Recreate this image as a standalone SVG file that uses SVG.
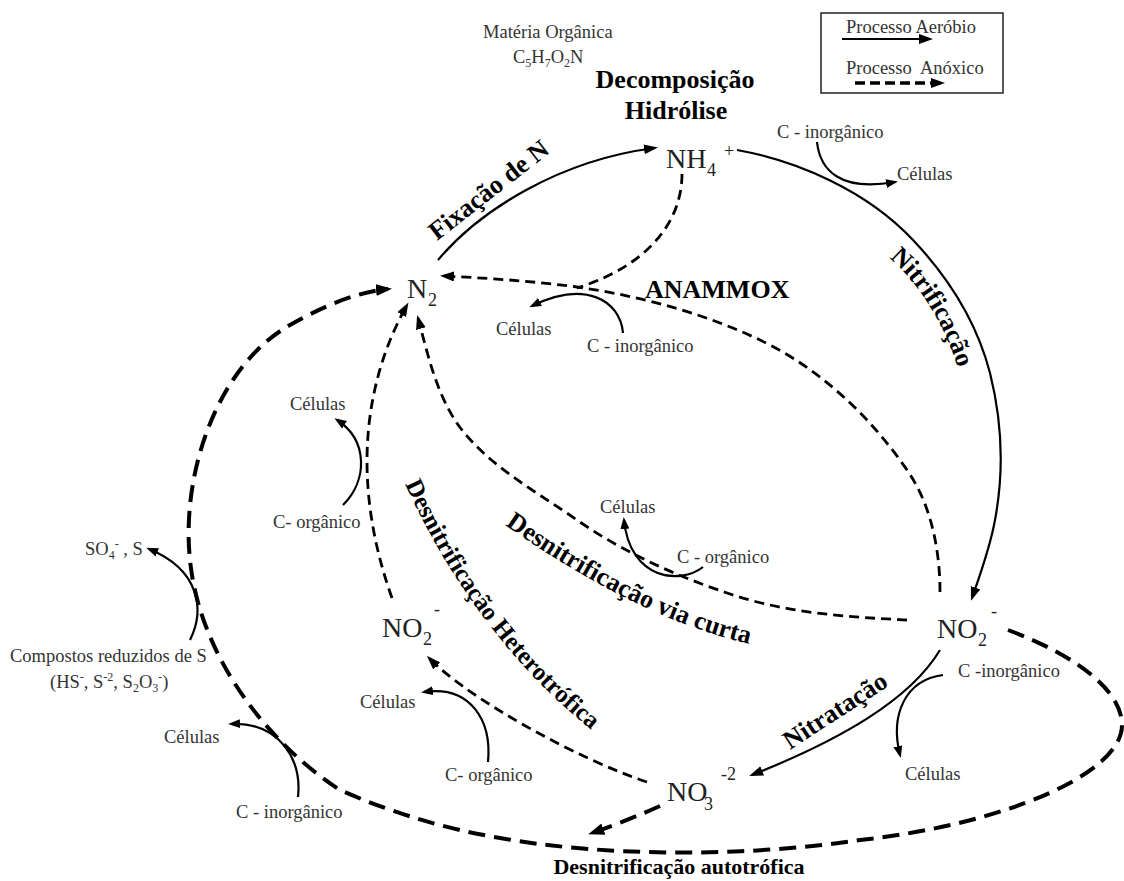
<svg xmlns="http://www.w3.org/2000/svg" width="1124" height="881" viewBox="0 0 1124 881">
<style>
text { font-family: "Liberation Serif", "Times New Roman", serif; fill: #1a1a1a; }
.sm { font-size: 18.5px; fill: #333; }
.sup { font-size: 12px; }
.node { font-size: 28px; fill: #222; }
.ns { font-size: 18px; }
.bold { font-size: 26px; font-weight: bold; fill: #000; }
.solid { fill: none; stroke: #000; stroke-width: 2.2; }
.thin { fill: none; stroke: #000; stroke-width: 2.8; stroke-dasharray: 10 6; }
.thick { fill: none; stroke: #000; stroke-width: 4; stroke-dasharray: 17 9; }
.small { fill: none; stroke: #000; stroke-width: 2.2; }
</style>
<defs>
<marker id="ah" markerUnits="userSpaceOnUse" markerWidth="16" markerHeight="12" refX="11" refY="5" orient="auto"><path d="M0,0 L14,5 L0,10 z" fill="#000"/></marker>
<marker id="ahb" markerUnits="userSpaceOnUse" markerWidth="18" markerHeight="14" refX="12" refY="6" orient="auto"><path d="M0,0 L16,6 L0,12 z" fill="#000"/></marker>
<marker id="ahs" markerUnits="userSpaceOnUse" markerWidth="14" markerHeight="10" refX="9" refY="4.5" orient="auto"><path d="M0,0 L12,4.5 L0,9 z" fill="#000"/></marker>
<path id="tp-nitrif" d="M889,258 Q938,300 962,380 L975,420"/>
<path id="tp-curta" d="M505,525 Q642,621 755,645 L790,650"/>
<path id="tp-hetero" d="M405,484 Q476,638 593,731 L624,755"/>
</defs>

<g id="connectors">
  <path id="c-fixacao" class="solid" d="M438,260 C480,210 560,160 655,148" marker-end="url(#ah)"/>
  <path id="c-nitrificacao" class="solid" d="M737,150 C798,161 867,191 913,240 C948,277 977,323 990,373 C1002,421 1004,472 995,520 C990,548 980,575 972,598" marker-end="url(#ah)"/>
  <path id="c-nitratacao" class="solid" d="M940,650 C910,700 840,740 752,775" marker-end="url(#ah)"/>
  <path id="c-anammox-nh4" class="thin" d="M682,174 C682,220 650,265 577,288"/>
  <path id="c-anammox" class="thin" d="M940,592 C940,550 931,504 907,470 C870,416 819,368 760,340 C703,313 640,296 577,287 C532,281 486,278 443,276" marker-end="url(#ah)"/>
  <path id="c-curta" class="thin" d="M907,620 C846,617 785,613 727,593 C674,575 623,552 577,520 C537,492 492,468 462,430 C437,398 428,355 418,318" marker-end="url(#ah)"/>
  <path id="c-hetero-no3" class="thin" d="M647,782 C580,760 470,700 429,658" marker-end="url(#ah)"/>
  <path id="c-hetero-n2" class="thin" d="M392,598 C350,480 365,380 407,305" marker-end="url(#ah)"/>
  <path id="c-no3-auto" class="thick" d="M660,806 C640,815 615,825 592,833" marker-end="url(#ahb)"/>
  <path id="c-auto" class="thick" d="M1008,630 C1075,655 1122,690 1122,725 C1122,775 1000,825 860,840 C740,858 600,856 500,838 C440,828 385,810 340,790 C263,740 199,652 190,560 C181,475 216,367 290,325 C320,308 355,292 388,289" marker-end="url(#ahb)"/>
  <path id="c-cells-nh4" class="small" d="M817,142 C820,170 840,192 895,182" marker-end="url(#ahs)"/>
  <path id="c-cells-anammox" class="small" d="M623,333 C620,300 585,280 532,306" marker-end="url(#ahs)"/>
  <path id="c-cells-leftup" class="small" d="M343,505 C368,480 368,440 337,420" marker-end="url(#ahs)"/>
  <path id="c-cells-center" class="small" d="M703,567 C680,585 630,580 624,520" marker-end="url(#ahs)"/>
  <path id="c-cells-hetero" class="small" d="M488,762 C492,720 470,685 424,692" marker-end="url(#ahs)"/>
  <path id="c-cells-right" class="small" d="M943,675 C905,680 890,715 900,755" marker-end="url(#ahs)"/>
  <path id="c-cells-leftlow" class="small" d="M298,797 C302,760 280,722 231,724" marker-end="url(#ahs)"/>
  <path id="c-so4" class="small" d="M190,640 C205,610 200,570 149,549" marker-end="url(#ahs)"/>
</g>

<g id="legend">
  <rect x="821" y="13" width="182" height="80" fill="none" stroke="#222" stroke-width="1.5"/>
  <text class="sm" x="846" y="33" fill="#222">Processo Aeróbio</text>
  <path class="solid" d="M842,39 L930,39" marker-end="url(#ah)"/>
  <text class="sm" x="846" y="74" fill="#222" xml:space="preserve">Processo  Anóxico</text>
  <path fill="none" stroke="#000" stroke-width="3.5" stroke-dasharray="10 5" d="M855,83 L942,83" marker-end="url(#ah)"/>
</g>

<g id="node-materia">
  <text class="sm" x="483" y="38">Matéria Orgânica</text>
  <text class="sm" x="513" y="63">C<tspan class="sup" dy="4">5</tspan><tspan dy="-4">H</tspan><tspan class="sup" dy="4">7</tspan><tspan dy="-4">O</tspan><tspan class="sup" dy="4">2</tspan><tspan dy="-4">N</tspan></text>
  <text class="bold" x="675" y="88" text-anchor="middle">Decomposição</text>
  <text class="bold" x="676" y="119" text-anchor="middle">Hidrólise</text>
</g>

<g id="node-nh4">
  <text class="node" x="666" y="168">NH<tspan class="ns" x="707" y="176">4</tspan><tspan class="ns" x="724" y="157">+</tspan></text>
</g>
<g id="node-n2">
  <text class="node" x="407" y="298">N<tspan class="ns" x="428" y="306">2</tspan></text>
</g>
<g id="node-no2-right">
  <text class="node" x="937" y="638">NO<tspan class="ns" x="978" y="646">2</tspan><tspan class="ns" x="991" y="617">-</tspan></text>
</g>
<g id="node-no2-left">
  <text class="node" x="382" y="637">NO<tspan class="ns" x="423" y="645">2</tspan><tspan class="ns" x="434" y="615">-</tspan></text>
</g>
<g id="node-no3">
  <text class="node" x="667" y="801">NO<tspan class="ns" x="704" y="810">3</tspan><tspan class="ns" x="721" y="780">-2</tspan></text>
</g>

<g id="labels">
  <text class="bold" transform="translate(437,241) rotate(-38)">Fixação de N</text>
  <text class="bold"><textPath href="#tp-nitrif">Nitrificação</textPath></text>
  <text class="bold" x="645" y="298">ANAMMOX</text>
  <text class="bold"><textPath href="#tp-curta">Desnitrificação via curta</textPath></text>
  <text class="bold" style="font-size:25px"><textPath href="#tp-hetero">Desnitrificação Heterotrófica</textPath></text>
  <text class="bold" transform="translate(790,750) rotate(-33)">Nitratação</text>
  <text class="bold" x="679" y="874" text-anchor="middle" style="font-size:22px">Desnitrificação autotrófica</text>
</g>

<g id="small-labels">
  <text class="sm" x="777" y="138">C - inorgânico</text>
  <text class="sm" x="897" y="180">Células</text>
  <text class="sm" x="496" y="335">Células</text>
  <text class="sm" x="587" y="352">C - inorgânico</text>
  <text class="sm" x="290" y="410">Células</text>
  <text class="sm" x="273" y="528">C- orgânico</text>
  <text class="sm" x="600" y="513">Células</text>
  <text class="sm" x="677" y="563">C - orgânico</text>
  <text class="sm" x="958" y="677">C -inorgânico</text>
  <text class="sm" x="905" y="780">Células</text>
  <text class="sm" x="360" y="708">Células</text>
  <text class="sm" x="445" y="781">C- orgânico</text>
  <text class="sm" x="164" y="743">Células</text>
  <text class="sm" x="236" y="818">C - inorgânico</text>
  <text class="sm" x="85" y="555">SO<tspan class="sup" dy="4">4</tspan><tspan class="sup" dy="-11">-</tspan><tspan dy="7"> , S</tspan></text>
  <text class="sm" x="10" y="662">Compostos reduzidos de S</text>
  <text class="sm" x="50" y="688">(HS<tspan class="sup" dy="-7">-</tspan><tspan dy="7">, S</tspan><tspan class="sup" dy="-7">-2</tspan><tspan dy="7">, S</tspan><tspan class="sup" dy="4">2</tspan><tspan dy="-4">O</tspan><tspan class="sup" dy="4">3</tspan><tspan class="sup" dy="-11">-</tspan><tspan dy="7">)</tspan></text>
</g>
</svg>
